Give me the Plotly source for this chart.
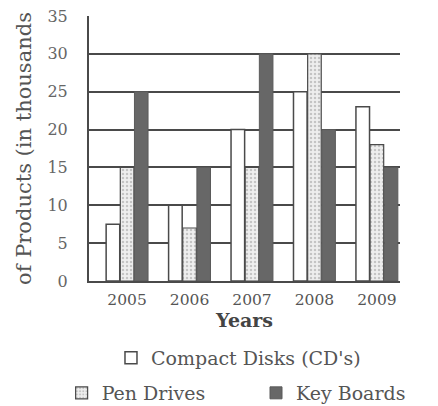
import plotly.graph_objects as go

years = ["2005", "2006", "2007", "2008", "2009"]
compact_disks = [7.5, 10, 20, 25, 23]
pen_drives = [15, 7, 15, 30, 18]
key_boards = [25, 15, 30, 20, 15]
y_ticks = [0, 5, 10, 15, 20, 25, 30, 35]

xpos = list(range(len(years)))
FONT = "DejaVu Serif"
EDGE = "#4a4a4a"

fig = go.Figure()
fig.add_trace(go.Bar(
    x=xpos, y=compact_disks, name="Compact Disks (CD's)", legend="legend", showlegend=True,
    marker=dict(color="white", line=dict(color=EDGE, width=1.5)),
))
fig.add_trace(go.Bar(
    x=xpos, y=pen_drives, name="Pen Drives", legend="legend2", showlegend=True,
    marker=dict(color="#eeeeee", line=dict(color=EDGE, width=1.2),
                pattern=dict(shape=".", fgcolor="#999999", size=4, solidity=0.3)),
))
fig.add_trace(go.Bar(
    x=xpos, y=key_boards, name="Key Boards", legend="legend3", showlegend=True,
    marker=dict(color="#676767", line=dict(color="#5a5a5a", width=1)),
))

legend_style = dict(orientation="h", yanchor="middle", xanchor="left",
                    font=dict(size=19, color="#555555"), bgcolor="rgba(0,0,0,0)")

fig.update_layout(
    width=438, height=406,
    margin=dict(l=89, r=38, t=16, b=125, autoexpand=False),
    paper_bgcolor="white", plot_bgcolor="white",
    showlegend=True,
    barmode="group", bargap=0.32, bargroupgap=0.04,
    font=dict(family=FONT, color="#555555"),
    xaxis=dict(
        range=[-0.61, 4.37], tickvals=xpos, ticktext=years, automargin=False,
        showgrid=False, showline=True, linecolor=EDGE, linewidth=2,
        ticks="", ticklabelstandoff=3, tickfont=dict(size=15.5, color="#555555"),
        title=dict(text="<b>Years</b>", font=dict(size=19, color="#444444"), standoff=2),
    ),
    yaxis=dict(
        range=[0, 35], tickvals=y_ticks, showgrid=True, gridcolor=EDGE, gridwidth=1.5,
        showline=True, linecolor=EDGE, linewidth=2, zeroline=False, automargin=False,
        ticks="", ticklabelstandoff=16, tickfont=dict(size=16, color="#666666"),
        title=dict(text="of Products (in thousands", font=dict(size=21, color="#555555"), standoff=10),
    ),
    legend=dict(x=0.0707, y=-0.29, **legend_style),
    legend2=dict(x=-0.088, y=-0.4226, **legend_style),
    legend3=dict(x=0.537, y=-0.4226, **legend_style),
)

fig.write_html("out.html", config={"displayModeBar": False},
               post_script="document.body.style.margin='0';")
